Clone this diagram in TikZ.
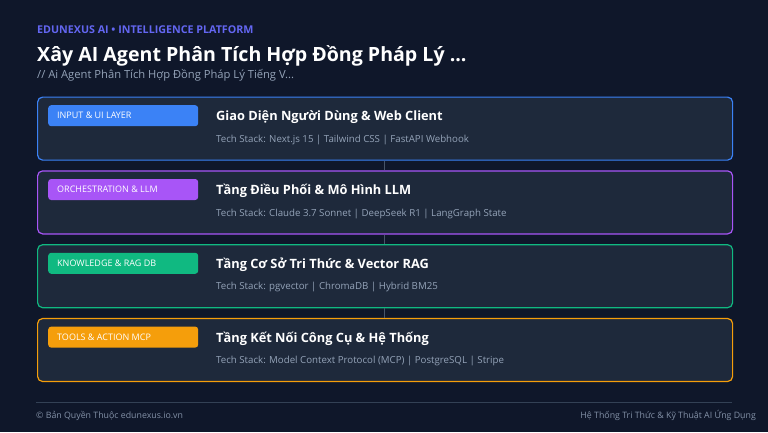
\documentclass[tikz,border=0pt]{standalone}
\usepackage{fontspec}
\setmainfont{Open Sans}
\definecolor{bgc}{HTML}{0F172A}
\definecolor{cardc}{HTML}{1E293B}
\definecolor{hdrc}{HTML}{6366F1}
\definecolor{subc}{HTML}{94A3B8}
\definecolor{footc}{HTML}{8391A7}
\definecolor{linkc}{HTML}{475569}
\definecolor{rulec}{HTML}{334155}
\definecolor{cblue}{HTML}{3B82F6}
\definecolor{cpurple}{HTML}{A855F7}
\definecolor{cgreen}{HTML}{10B981}
\definecolor{corange}{HTML}{F59E0B}
\tikzset{
  card/.style={draw=#1, line width=1.2pt, fill=cardc, rounded corners=5pt, minimum width=695pt, minimum height=63pt, inner sep=0pt, anchor=north west},
  badge/.style={fill=#1, rounded corners=3pt, minimum width=150pt, minimum height=21pt, inner sep=0pt, anchor=north west},
  badgetxt/.style={text=white, font=\fontsize{9}{10}\selectfont, anchor=base west, inner sep=0pt},
  cardtitle/.style={text=white, font=\bfseries\fontsize{12.8}{15}\selectfont, anchor=base west, inner sep=0pt},
  stack/.style={text=subc, font=\fontsize{9.7}{11}\selectfont, anchor=base west, inner sep=0pt},
  link/.style={draw=linkc, line width=1.5pt},
}
\begin{document}
\begin{tikzpicture}[x=1pt,y=-1pt]
\fill[bgc] (0,0) rectangle (768,432);
\useasboundingbox (0,0) rectangle (768,432);
\node[text=hdrc, font=\bfseries\fontsize{10.7}{12}\selectfont, anchor=base west, inner sep=0pt] (hdr) at (37,33) {EDUNEXUS AI • INTELLIGENCE PLATFORM};
\node[text=white, font=\bfseries\fontsize{19.6}{22}\selectfont, anchor=base west, inner sep=0pt] (title) at (37,61.5) {Xây AI Agent Phân Tích Hợp Đồng Pháp Lý ...};
\node[text=subc, font=\fontsize{11.2}{12}\selectfont, anchor=base west, inner sep=0pt] (sub) at (37,78.8) {// Ai Agent Phân Tích Hợp Đồng Pháp Lý Tiếng V...};

\node[card=cblue] (c1) at (37,96.5) {};
\node[card=cpurple] (c2) at (37,170.3) {};
\node[card=cgreen] (c3) at (37,244.1) {};
\node[card=corange] (c4) at (37,317.9) {};

\foreach \i/\c/\b/\t/\s in {
 1/cblue/INPUT \& UI LAYER/Giao Diện Người Dùng \& Web Client/Tech Stack: Next.js 15 | Tailwind CSS | FastAPI Webhook,
 2/cpurple/ORCHESTRATION \& LLM/Tầng Điều Phối \& Mô Hình LLM/Tech Stack: Claude 3.7 Sonnet | DeepSeek R1 | LangGraph State,
 3/cgreen/KNOWLEDGE \& RAG DB/Tầng Cơ Sở Tri Thức \& Vector RAG/Tech Stack: pgvector | ChromaDB | Hybrid BM25,
 4/corange/TOOLS \& ACTION MCP/Tầng Kết Nối Công Cụ \& Hệ Thống/Tech Stack: Model Context Protocol (MCP) | PostgreSQL | Stripe}{
  \node[badge=\c] (b\i) at ([shift={(11,8.5)}]c\i.north west) {};
  \node[badgetxt] (bt\i) at ([shift={(20,22.2)}]c\i.north west) {\b};
  \node[cardtitle] (t\i) at ([shift={(179,24.4)}]c\i.north west) {\t};
  \node[stack] (s\i) at ([shift={(179,45.8)}]c\i.north west) {\s};
}
\draw[link] (c1.south -| 384.5,0) -- (c2.north -| 384.5,0);
\draw[link] (c2.south -| 384.5,0) -- (c3.north -| 384.5,0);
\draw[link] (c3.south -| 384.5,0) -- (c4.north -| 384.5,0);

\coordinate (r1) at (36,402.3);
\coordinate (r2) at (732,402.3);
\draw[rulec, line width=0.8pt] (r1) -- (r2);
\node[text=footc, font=\fontsize{8.8}{10}\selectfont, anchor=base west, inner sep=0pt] (fl) at (36,418.5) {© Bản Quyền Thuộc edunexus.io.vn};
\node[text=footc, font=\fontsize{8.8}{10}\selectfont, anchor=base east, inner sep=0pt] (fr) at (756,418.5) {Hệ Thống Tri Thức \& Kỹ Thuật AI Ứng Dụng};
\end{tikzpicture}
\end{document}
